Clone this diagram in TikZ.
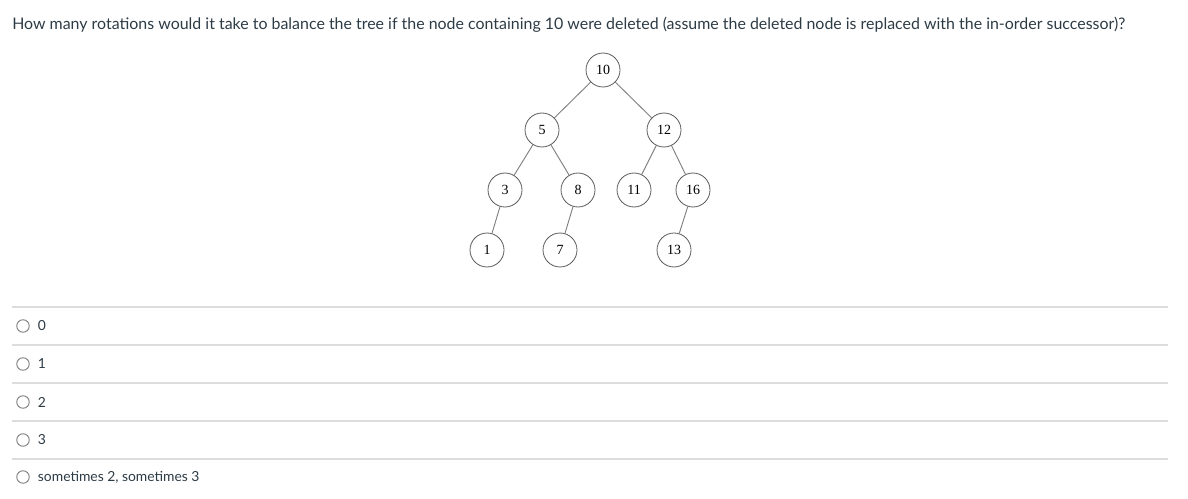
\documentclass[tikz,border=0pt]{standalone}
\usepackage{fontspec}
\setmainfont{Lato}
\newfontfamily\treefont{Liberation Serif}
\usetikzlibrary{positioning}
\definecolor{RuleGray}{HTML}{DCDCDC}
\definecolor{EdgeGray}{HTML}{808080}
\definecolor{RingGray}{HTML}{5A5A5A}
\definecolor{TextDark}{HTML}{2D3B45}
\tikzset{
	treenode/.style={circle, draw=RingGray, line width=0.6pt, minimum size=34*0.75pt, inner sep=0pt, font=\treefont\fontsize{10.5}{11}\selectfont},
	treeedge/.style={draw=EdgeGray, line width=0.7pt},
	radio/.style={circle, draw=EdgeGray, line width=0.7pt, minimum size=12.5*0.75pt, inner sep=0pt},
	answer/.style={anchor=west, inner sep=0pt, text=TextDark, font=\fontsize{10.4}{12}\selectfont},
}
\begin{document}
\begin{tikzpicture}[x=0.75pt, y=-0.75pt]
	\useasboundingbox (0,0) rectangle (1188,499);
	
	\node[anchor=base west, inner sep=0pt, text=TextDark, font=\fontsize{11.95}{14}\selectfont] (question) at (12,30) {How many rotations would it take to balance the tree if the node containing 10 were deleted (assume the deleted node is replaced with the in-order successor)?};
	
	% tree
	\node[treenode] (n10) at (603,70) {10};
	\node[treenode] (n5) at (542,130) {5};
	\node[treenode] (n12) at (664,130) {12};
	\node[treenode] (n3) at (505,190) {3};
	\node[treenode] (n8) at (578,190) {8};
	\node[treenode] (n11) at (634,190) {11};
	\node[treenode] (n16) at (693,190) {16};
	\node[treenode] (n1) at (487,250) {1};
	\node[treenode] (n7) at (560,250) {7};
	\node[treenode] (n13) at (674,250) {13};
	
	\foreach \a/\b in {n10/n5, n10/n12, n5/n3, n5/n8, n12/n11, n12/n16, n3/n1, n8/n7, n16/n13}
		\draw[treeedge] (\a) -- (\b);
	
	% answers
	\foreach \y in {307,345,383,421,459}
		\draw[RuleGray, line width=0.8pt] (12,\y) -- (1168,\y);
	
	\node[radio] (r0) at (23,326) {};
	\node[answer, right=8*0.75pt of r0] (a0) {0};
	\node[radio] (r1) at (23,364) {};
	\node[answer, right=8*0.75pt of r1] (a1) {1};
	\node[radio] (r2) at (23,402) {};
	\node[answer, right=8*0.75pt of r2] (a2) {2};
	\node[radio] (r3) at (23,440) {};
	\node[answer, right=8*0.75pt of r3] (a3) {3};
	\node[radio] (r4) at (23,477) {};
	\node[answer, right=8*0.75pt of r4] (a4) {sometimes 2, sometimes 3};
\end{tikzpicture}
\end{document}
